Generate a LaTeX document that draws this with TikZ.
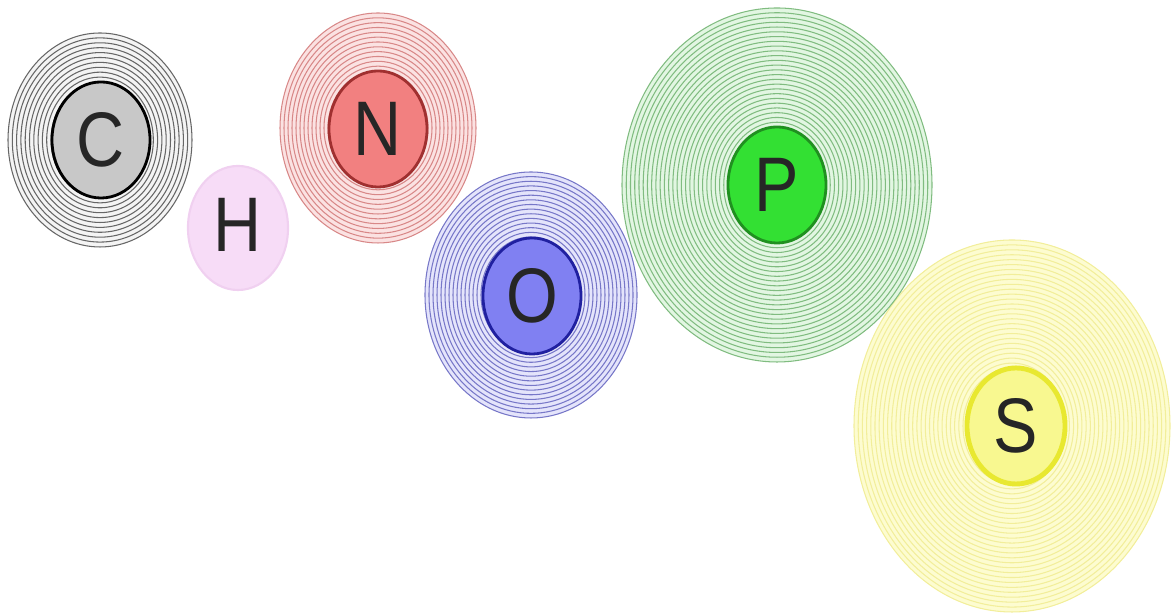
\documentclass[tikz,border=0pt]{standalone}
\usepackage{fontspec}
\setmainfont{Liberation Sans}
\newfontfamily\atomfont[FakeStretch=0.86]{Liberation Sans}
\usetikzlibrary{shapes.geometric}
\definecolor{cring}{HTML}{666666}
\definecolor{cbg}{HTML}{F4F4F4}
\definecolor{cnuc}{HTML}{C8C8C8}
\definecolor{hfill}{HTML}{F7DCF7}
\definecolor{hline}{HTML}{F0D0F0}
\definecolor{nring}{HTML}{D88888}
\definecolor{nbg}{HTML}{FBE2E2}
\definecolor{nnuc}{HTML}{F28080}
\definecolor{nbord}{HTML}{A03030}
\definecolor{oring}{HTML}{7777C8}
\definecolor{obg}{HTML}{E4E4FB}
\definecolor{onuc}{HTML}{8080F2}
\definecolor{obord}{HTML}{2020A0}
\definecolor{pring}{HTML}{80BC80}
\definecolor{pbg}{HTML}{E2F6E2}
\definecolor{pnuc}{HTML}{33E033}
\definecolor{pbord}{HTML}{209020}
\definecolor{sring}{HTML}{F2EE9A}
\definecolor{sbg}{HTML}{FDFCD0}
\definecolor{snuc}{HTML}{F8F890}
\definecolor{sbord}{HTML}{E8E830}
\newcommand\atomrings[8]{%
  \foreach \k in {0,...,#7}{%
    \draw[#8, line width=0.3pt] (#1,#2) ellipse ({#3+(#5-#3)*\k/#7} and {#4+(#6-#4)*\k/#7});
  }%
}
\tikzset{
  letter/.style={font=\atomfont\fontsize{22}{22}\selectfont, text=black!85},
  nucleus/.style={ellipse, inner sep=0pt, minimum width=0.98cm, minimum height=1.16cm, line width=0.8pt, letter}
}
\begin{document}
\begin{tikzpicture}[x=0.01cm,y=0.01cm]
\useasboundingbox (0,0) rectangle (1172,613);
% C
\fill[cbg] (100,473) ellipse (92 and 107);
\atomrings{100}{473}{49}{58}{92}{107}{10}{cring}
\node[nucleus, fill=cnuc, draw=black] (C) at (101,473) {C};
% H
\node[ellipse, inner sep=0pt, minimum width=1.0cm, minimum height=1.24cm, fill=hfill, draw=hline, line width=0.6pt] (Hb) at (238,385) {};
\node[letter] (H) at (238,388) {H};
% N
\fill[nbg] (378,485) ellipse (98 and 115);
\atomrings{378}{485}{50}{57}{98}{115}{12}{nring}
\node[nucleus, fill=nnuc, draw=nbord] (N) at (378,484) {N};
% S
\fill[sbg] (1012,187) ellipse (158 and 186);
\atomrings{1012}{187}{49}{58}{158}{186}{26}{sring}
\node[nucleus, fill=snuc, draw=sbord, line width=1.4pt] (S) at (1016,187) {S};
% O
\fill[obg] (531,318) ellipse (106 and 123);
\atomrings{531}{318}{50}{58}{106}{123}{14}{oring}
\node[nucleus, fill=onuc, draw=obord] (O) at (532,317) {O};
% P
\fill[pbg] (777,428) ellipse (155 and 177);
\atomrings{777}{428}{49}{58}{155}{177}{25}{pring}
\node[nucleus, fill=pnuc, draw=pbord] (P) at (777,428) {P};
\end{tikzpicture}
\end{document}
